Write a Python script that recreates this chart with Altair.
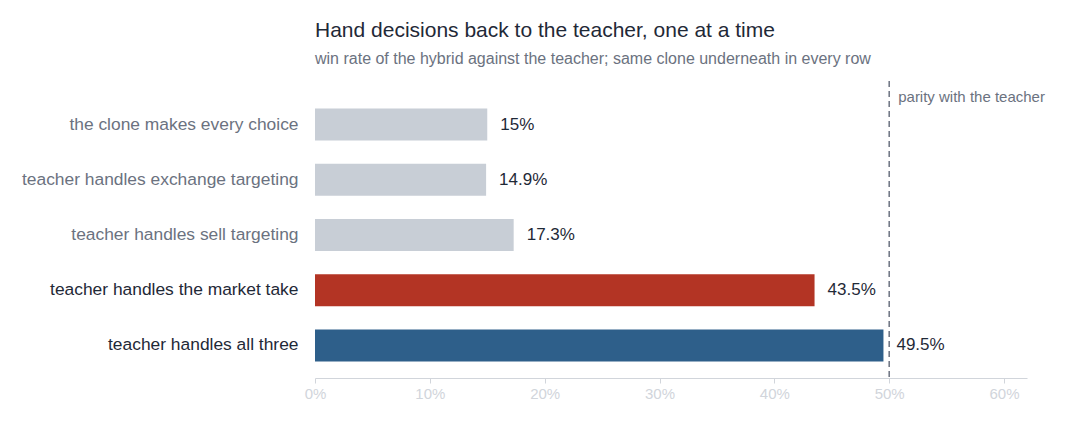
import altair as alt
import pandas as pd

categories = [
    "the clone makes every choice",
    "teacher handles exchange targeting",
    "teacher handles sell targeting",
    "teacher handles the market take",
    "teacher handles all three",
]
win_rates = [15.0, 14.9, 17.3, 43.5, 49.5]
groups = ["clone", "clone", "clone", "market", "all"]
x_ticks = [0, 10, 20, 30, 40, 50, 60]
parity = 50
parity_label = "parity with the teacher"

df = pd.DataFrame({"setup": categories, "rate": win_rates, "group": groups})
df["label"] = [f"{v:g}%" for v in win_rates]

FONT = "Liberation Sans"
DARK = "#1f2937"
GRAY = "#6b7280"
LIGHT = "#d1d5db"

y_enc = alt.Y(
    "setup:N",
    sort=categories,
    title=None,
    scale=alt.Scale(paddingInner=0.42, paddingOuter=0.3),
    axis=alt.Axis(
        ticks=False,
        domain=False,
        labelFontSize=17.4,
        labelPadding=17,
        labelFont=FONT,
        labelColor=alt.expr(
            "indexof(['teacher handles the market take','teacher handles all three'], datum.value) >= 0 ? '"
            + DARK + "' : '" + GRAY + "'"
        ),
        labelLimit=400,
    ),
)
x_enc = alt.X(
    "rate:Q",
    title=None,
    scale=alt.Scale(domain=[0, 62], nice=False, zero=True),
    axis=alt.Axis(
        values=x_ticks,
        labelExpr="datum.value + '%'",
        grid=False,
        domainColor=LIGHT,
        tickColor=LIGHT,
        labelColor=LIGHT,
        labelFontSize=15,
        labelFont=FONT,
        labelFlush=False,
        tickSize=5,
        labelPadding=3,
    ),
)

bars = alt.Chart(df).mark_bar().encode(
    x=x_enc,
    y=y_enc,
    color=alt.Color(
        "group:N",
        scale=alt.Scale(domain=["clone", "market", "all"], range=["#c8ced6", "#b33424", "#2e5f8a"]),
        legend=None,
    ),
)

labels = alt.Chart(df).mark_text(
    align="left", baseline="middle", dx=13, fontSize=17, font=FONT, color=DARK
).encode(x="rate:Q", y=alt.Y("setup:N", sort=categories), text="label:N")

pdf = pd.DataFrame({"x": [parity], "label": [parity_label]})
rule = alt.Chart(pdf).mark_rule(color=GRAY, strokeDash=[6, 4], strokeWidth=1.5).encode(
    x="x:Q", y=alt.value(-11), y2=alt.value(286)
)
ptext = alt.Chart(pdf).mark_text(
    align="left", baseline="middle", dx=9, fontSize=15, font=FONT, color=GRAY
).encode(x="x:Q", y=alt.value(5), text="label:N")

chart = (
    alt.layer(bars, labels, rule, ptext)
    .properties(
        width=712,
        height=286,
        background="white",
        title=alt.TitleParams(
            text="Hand decisions back to the teacher, one at a time",
            subtitle="win rate of the hybrid against the teacher; same clone underneath in every row",
            anchor="start",
            frame="group",
            fontSize=21,
            fontWeight="normal",
            font=FONT,
            color=DARK,
            subtitleFontSize=16,
            subtitleFont=FONT,
            subtitleColor=GRAY,
            subtitlePadding=10,
            offset=13,
        ),
        padding={"left": 13, "top": 12, "right": 10, "bottom": 10},
    )
    .configure_view(strokeWidth=0, stroke=None)
)

chart.save("out.html", embed_options={"renderer": "svg", "actions": False})
